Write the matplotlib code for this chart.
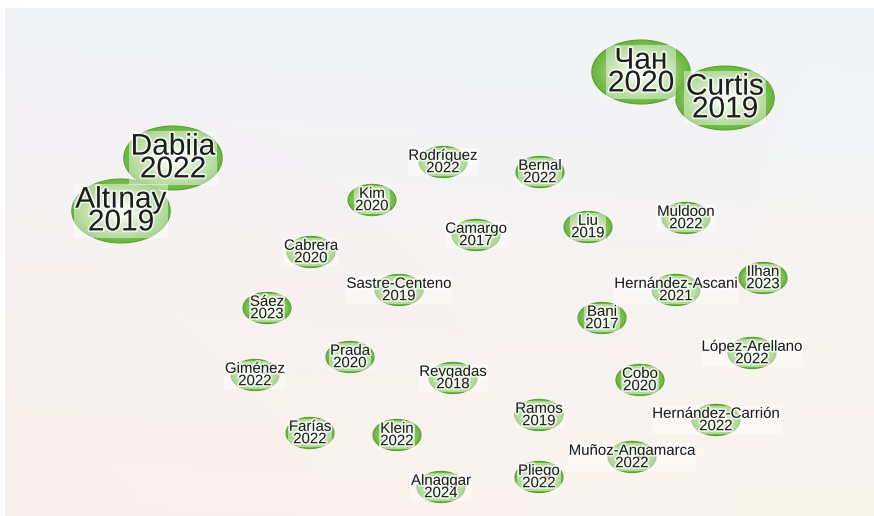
import numpy as np
import matplotlib
matplotlib.use("Agg")
import matplotlib.pyplot as plt
from matplotlib.path import Path
import matplotlib.patheffects as pe
from matplotlib.colors import to_rgb

plt.rcParams['font.family'] = ['Liberation Sans', 'DejaVu Sans']

# ---- data ----
names = ["Dabija", "Altınay", "Чан", "Curtis", "Rodríguez", "Bernal", "Kim",
         "Camargo", "Liu", "Muldoon", "Cabrera", "Sastre-Centeno",
         "Hernández-Ascani", "Ilhan", "Sáez", "Bani", "Prada", "López-Arellano",
         "Giménez", "Reygadas", "Cobo", "Ramos", "Hernández-Carrión", "Farías",
         "Klein", "Muñoz-Angamarca", "Pliego", "Alnaggar"]
years = [2022, 2019, 2020, 2019, 2022, 2022, 2020,
         2017, 2019, 2022, 2020, 2019,
         2021, 2023, 2023, 2017, 2020, 2022,
         2022, 2018, 2020, 2019, 2022, 2022,
         2022, 2022, 2022, 2024]
x = [173, 121, 641, 725, 443, 540, 372,
     476, 588, 686, 311, 399,
     676, 763, 267, 602, 350, 752,
     255, 453, 640, 539, 716, 310,
     397, 632, 539, 441]
y = [358, 305, 444, 418, 354, 344, 316,
     281, 289, 298, 264, 226,
     226, 238, 208, 198, 159, 163,
     141, 138, 136, 101, 96, 83,
     81, 59, 39, 29]
weight = [4.2, 4.2, 4.2, 4.2, 1, 1, 1,
          1, 1, 1, 1, 1,
          1, 1, 1, 1, 1, 1,
          1, 1, 1, 1, 1, 1,
          1, 1, 1, 1]

# ---- figure ----
W, H = 874, 516
fig = plt.figure(figsize=(W / 100, H / 100), dpi=100)
fig.patch.set_facecolor('white')
ax = fig.add_axes([5 / W, 0, (W - 5) / W, (H - 8) / H])
ax.set_xlim(5, 874)
ax.set_ylim(0, 508)
ax.axis('off')

# background gradient (corner colours)
tl, tr = np.array(to_rgb('#f0f2f8')), np.array(to_rgb('#eef3f9'))
bl, br = np.array(to_rgb('#fdeeea')), np.array(to_rgb('#fcf4eb'))
mid = np.array(to_rgb('#f9f7f5'))
ny, nx = 60, 100
u = np.linspace(0, 1, nx)[None, :, None]
v = np.linspace(0, 1, ny)[:, None, None]  # 0 top -> 1 bottom
top = tl * (1 - u) + tr * u
bot = bl * (1 - u) + br * u
img = top * (1 - v) + bot * v
img = 0.75 * img + 0.25 * mid
ax.imshow(img, extent=[5, 874, 0, 508], origin='upper', aspect='auto',
          interpolation='bilinear', zorder=0)

# elliptical marker (picture is vertically squashed)
th = np.linspace(0, 2 * np.pi, 120)
ell = Path(np.c_[np.cos(th), 0.65 * np.sin(th)], closed=True)

base_w_pt = 48 * 0.72  # width of a unit-weight bubble in points
edge_c = np.array(to_rgb('#6cb740'))
cen_c = np.array(to_rgb('#ecf5e2'))
wts = np.array(weight)
sizes = (base_w_pt * np.sqrt(wts)) ** 2

N = 14
for k in range(N):
    f = 1 - k / N * 0.85
    t = (k / (N - 1)) ** 1.2
    col = edge_c * (1 - t) + cen_c * t
    ax.scatter(x, y, s=sizes * f ** 2, marker=ell, color=col,
               edgecolors='#5aa232' if k == 0 else 'none',
               linewidths=0.8 if k == 0 else 0, zorder=2 + k * 0.01)

# labels
for xi, yi, nm, yr, w in zip(x, y, names, years, weight):
    big = w > 2
    fs = 21.5 if big else 10.8
    ax.text(xi, yi, f"{nm}\n{yr}", ha='center', va='center', fontsize=fs,
            color='#1e1e1e', linespacing=0.76 if big else 0.85,
            multialignment='center', zorder=5,
            bbox=dict(boxstyle='square,pad=0.05', facecolor='white',
                      edgecolor='none', alpha=0.45),
            path_effects=[pe.withStroke(linewidth=2.5, foreground='white', alpha=0.7)])

fig.savefig('out.png', dpi=100, facecolor='white')
